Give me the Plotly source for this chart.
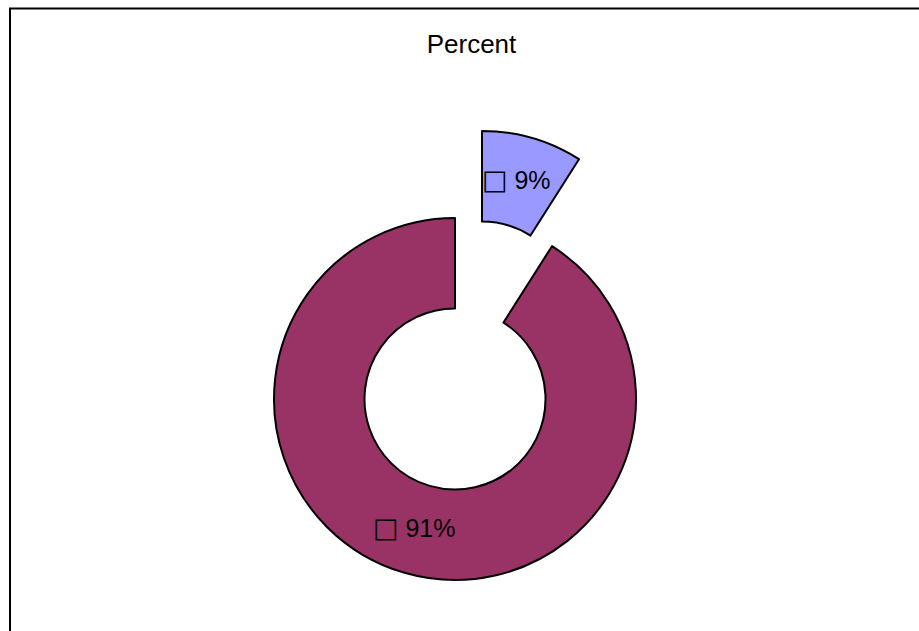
import math
import plotly.graph_objects as go

categories = ["Slice A", "Slice B"]
values = [9, 91]
colors = ["#9999FF", "#993366"]
title_text = "Percent"

W, H = 919, 631
TRANSPARENT = "rgba(0,0,0,0)"
R = 181
HOLE = 0.5
main_center = (455, 399)      # pixel centre of the ring
explode_center = (482, 312)   # pixel centre of the exploded slice

def box(cx, cy, r):
    return dict(x=[(cx - r) / W, (cx + r) / W],
                y=[(H - (cy + r)) / H, (H - (cy - r)) / H])

common = dict(
    labels=categories, values=values, hole=HOLE, sort=False,
    direction="clockwise", rotation=0, textinfo="none",
    showlegend=False, hoverinfo="label+percent",
)

fig = go.Figure()
# main ring (91%)
fig.add_trace(go.Pie(
    **common,
    marker=dict(colors=[TRANSPARENT, colors[1]],
                line=dict(color=[TRANSPARENT, "black"], width=[0, 2])),
    domain=box(*main_center, R),
))
# exploded slice (9%)
fig.add_trace(go.Pie(
    **common,
    marker=dict(colors=[colors[0], TRANSPARENT],
                line=dict(color=["black", TRANSPARENT], width=[2, 0])),
    domain=box(*explode_center, R),
))

# data labels placed at each slice's mid angle / mid radius
total = sum(values)
centers = [explode_center, main_center]
annotations = []
cum = 0
for v, (cx, cy) in zip(values, centers):
    mid = (cum + v / 2) / total * 2 * math.pi
    cum += v
    rr = R * (1 + HOLE) / 2
    px = cx + rr * math.sin(mid) - 3
    py = cy - rr * math.cos(mid) - 2
    annotations.append(dict(
        x=px / W, y=(H - py) / H, xref="paper", yref="paper",
        text=f'<span style="font-family:DejaVu Sans;font-size:27px">\u25a1</span> {v}%',
        showarrow=False, xanchor="center", yanchor="middle",
        font=dict(family="Liberation Sans, Arial", size=25, color="black"),
    ))

fig.update_layout(
    width=W, height=H,
    margin=dict(l=0, r=0, t=0, b=0),
    paper_bgcolor="white",
    title=dict(text=title_text, x=471.5 / W, xanchor="center",
               y=1 - 44 / H, yanchor="middle", yref="container",
               font=dict(family="Liberation Sans, Arial", size=26, color="black")),
    annotations=annotations,
    shapes=[dict(type="rect", xref="paper", yref="paper",
                 x0=10 / W, x1=1.05, y0=-0.05, y1=1 - 8.5 / H,
                 line=dict(color="black", width=2), fillcolor=TRANSPARENT)],
)

fig.write_html("out.html")
